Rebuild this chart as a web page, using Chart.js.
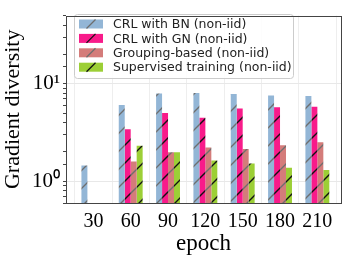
<!DOCTYPE html>
<html>
<head>
<meta charset="utf-8">
<script src="https://cdn.jsdelivr.net/npm/chart.js@4"></script>
<style>
  html, body { margin: 0; padding: 0; background: #fff; }
  #wrap { width: 349px; height: 262px; }
</style>
</head>
<body>
<div id="wrap"><canvas id="gdChart" width="349" height="262"></canvas></div>
<script>
// data (log scale)
const epochs = [30, 60, 90, 120, 150, 180, 210];
const crlBN = [1.45, 6.07, 7.94, 8.05, 7.87, 7.6, 7.48];
const crlGN = [null, 3.42, 5.03, 4.5, 5.59, 5.75, 5.8];
const grouping = [null, 1.6, 1.99, 2.22, 2.15, 2.35, 2.52];
const supervised = [null, 2.32, 1.99, 1.64, 1.52, 1.38, 1.31];
const seriesNames = ['CRL with BN (non-iid)', 'CRL with GN (non-iid)', 'Grouping-based (non-iid)', 'Supervised training (non-iid)'];
const baseColors = ['#93b6d6', '#f81b8a', '#d47c7a', '#9ccf36'];
const hatchColors = ['#6e6e6e', '#111111', '#6e6e6e', '#111111'];

// hatched fill like matplotlib's '/'
function hatch(fill, line) {
  const s = 18;
  const c = document.createElement('canvas');
  c.width = s; c.height = s;
  const g = c.getContext('2d');
  g.fillStyle = fill;
  g.fillRect(0, 0, s, s);
  g.strokeStyle = line;
  g.lineWidth = 1.4;
  g.beginPath();
  g.moveTo(-2, s + 2); g.lineTo(s + 2, -2);
  g.moveTo(-2, 2); g.lineTo(2, -2);
  g.moveTo(s - 2, s + 2); g.lineTo(s + 2, s - 2);
  g.stroke();
  return g.createPattern(c, 'repeat');
}

const fills = baseColors.map((c, i) => hatch(c, hatchColors[i]));

const toPoints = vals => epochs.map((e, i) => ({ x: e, y: vals[i] }));

// legend box drawn inside the plot, top left
const boxLegend = {
  id: 'boxLegend',
  afterDatasetsDraw(chart) {
    const ctx = chart.ctx;
    const x = 74, y = 14, w = 219, h = 64;
    ctx.save();
    ctx.fillStyle = 'rgba(255,255,255,0.85)';
    ctx.strokeStyle = '#cccccc';
    ctx.lineWidth = 1;
    ctx.beginPath();
    ctx.roundRect(x + 0.5, y + 0.5, w, h, 3);
    ctx.fill();
    ctx.stroke();
    ctx.font = '12.5px "DejaVu Sans"';
    ctx.textBaseline = 'middle';
    seriesNames.forEach((name, i) => {
      const cy = y + 10 + i * 14.4;
      ctx.fillStyle = baseColors[i];
      ctx.fillRect(x + 5, cy - 4.5, 24, 9);
      // one slash in the middle of the swatch
      ctx.strokeStyle = hatchColors[i];
      ctx.lineWidth = 1.3;
      ctx.beginPath();
      ctx.moveTo(x + 12.5, cy + 4.5);
      ctx.lineTo(x + 21.5, cy - 4.5);
      ctx.stroke();
      ctx.fillStyle = '#222';
      ctx.fillText(name, x + 39, cy + 1);
    });
    ctx.restore();
  },
  afterDraw(chart) {
    const a = chart.chartArea;
    const ctx = chart.ctx;
    ctx.save();
    ctx.strokeStyle = '#444';
    ctx.lineWidth = 1;
    ctx.strokeRect(Math.round(a.left) + 0.5, Math.round(a.top) + 0.5, Math.round(a.right - a.left), Math.round(a.bottom - a.top));
    ctx.restore();
  }
};

const ctx = document.getElementById('gdChart').getContext('2d');
const gdChart = new Chart(ctx, {
  type: 'bar',
  data: {
    datasets: [
      { label: seriesNames[0], data: toPoints(crlBN), backgroundColor: fills[0] },
      { label: seriesNames[1], data: toPoints(crlGN), backgroundColor: fills[1] },
      { label: seriesNames[2], data: toPoints(grouping), backgroundColor: fills[2] },
      { label: seriesNames[3], data: toPoints(supervised), backgroundColor: fills[3] }
    ]
  },
  options: {
    responsive: false,
    animation: false,
    layout: { padding: { top: 5, right: 8, left: 0, bottom: 0 } },
    datasets: { bar: { categoryPercentage: 0.64, barPercentage: 1.0 } },
    plugins: { legend: { display: false }, tooltip: { enabled: false } },
    scales: {
      x: {
        type: 'linear',
        offset: false,
        min: 8,
        max: 229,
        afterBuildTicks(scale) { scale.ticks = epochs.map(v => ({ value: v })); },
        grid: { color: '#eeeeee', drawTicks: false },
        border: { display: false },
        ticks: {
          color: '#000',
          padding: 7,
          font: { family: '"Liberation Serif"', size: 20 },
          maxRotation: 0,
          autoSkip: false,
          callback: v => String(v)
        },
        title: { display: true, text: 'epoch', color: '#000', padding: { top: 0 }, font: { family: '"Liberation Serif"', size: 23 } },
        afterFit(scale) { scale.height = 59; }
      },
      y: {
        type: 'logarithmic',
        min: 0.6,
        max: 50,
        border: { display: false },
        grid: {
          color: c => (c.tick && (c.tick.value === 1 || c.tick.value === 10)) ? '#e8e8e8' : 'transparent',
          tickColor: '#444',
          tickLength: 3
        },
        ticks: {
          color: '#000',
          padding: 3,
          autoSkip: false,
          font: { family: '"Liberation Serif"', size: 21 },
          callback: v => v === 1 ? '10⁰' : (v === 10 ? '10¹' : '')
        },
        title: { display: true, text: 'Gradient diversity', color: '#000', padding: 0, font: { family: '"Liberation Serif"', size: 22 } },
        afterFit(scale) { scale.width = 66; }
      }
    }
  },
  plugins: [boxLegend]
});
</script>
</body>
</html>
